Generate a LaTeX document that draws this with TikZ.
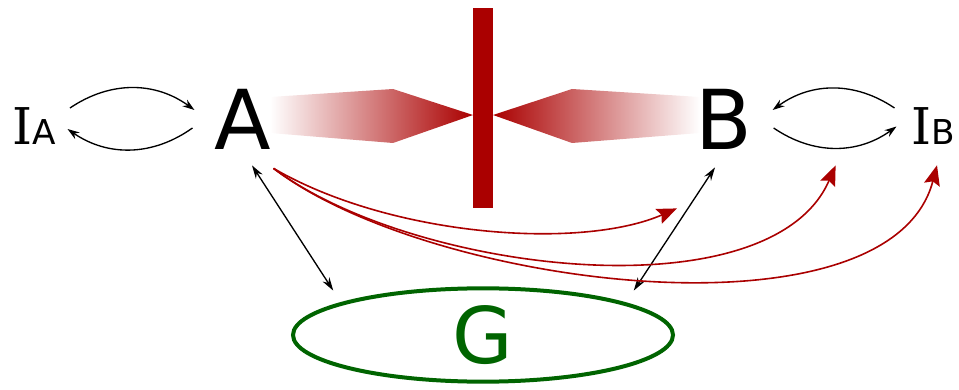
\documentclass[tikz,border=0pt]{standalone}
\usepackage{fontspec}
\usepackage{tikz}
\usepackage{xcolor}
\usetikzlibrary{arrows.meta,shapes.geometric}
\setmainfont{DejaVu Sans}
\newfontfamily\serifI{DejaVu Serif}
\definecolor{barred}{RGB}{170,0,0}
\definecolor{ggreen}{RGB}{0,100,0}

\begin{document}
\begin{tikzpicture}[x=0.75pt,y=0.75pt,
  letter/.style={inner sep=0pt,font=\fontsize{62}{62}\selectfont},
  lab/.style={inner sep=0pt},
  link/.style={line width=1pt,{Stealth[length=10pt,width=6pt]}-{Stealth[length=10pt,width=6pt]}},
  cyc/.style={line width=1pt,-{Stealth[length=9pt,width=6pt]}},
  sig/.style={barred,line width=1.2pt,-{Stealth[length=15pt,width=12pt,inset=2.5pt]}}]
\useasboundingbox (0,0) rectangle (959,389);
% beams and the wall
\shade[left color=white,right color=barred] (270,292) -- (393,300) -- (473,274) -- (393,246) -- (270,256) -- cycle;
\shade[left color=barred,right color=white] (493,274) -- (572,300) -- (700,292) -- (700,256) -- (572,246) -- cycle;
\fill[barred] (473,181) rectangle (493,381);
% parties
\node[letter] (A) at (243,270) {A};
\node[letter] (B) at (724,270) {B};
\node[lab] (IA) at (34,262.5) {{\fontsize{38}{38}\serifI I}{\fontsize{25.7}{26}\selectfont A}};
\node[lab] (IB) at (933.5,262.5) {{\fontsize{38}{38}\serifI I}{\fontsize{25.7}{26}\selectfont B}};
\node[ellipse,draw=ggreen,line width=3pt,inner sep=0pt,minimum width=285pt,minimum height=70pt,
  text=ggreen,font=\fontsize{58.6}{59}\selectfont] (G) at (483,54) {G};
% local loops
\draw[cyc] ([shift={(14,18.5)}]IA.east) to[bend left=35] ([shift={(-20,9)}]A.west);
\draw[cyc] ([shift={(-22,-9)}]A.west) to[bend left=35] ([shift={(11.5,-2.5)}]IA.east);
\draw[cyc] ([shift={(-17,18.5)}]IB.west) to[bend right=35] ([shift={(20,9)}]B.east);
\draw[cyc] ([shift={(21,-9)}]B.east) to[bend right=35] ([shift={(-15,0)}]IB.west);
% links to G
\draw[link] ([shift={(9,-16)}]A.south) -- ([shift={(-14,10)}]G.north west);
\draw[link] ([shift={(-9,-18)}]B.south) -- ([shift={(15,10)}]G.north east);
% signals from A
\draw[sig] ([shift={(2,-19)}]A.south east) .. controls +(117,-68) and +(-97,-42) .. ([shift={(-47,-59)}]B.south);
\draw[sig] ([shift={(2,-19)}]A.south east) .. controls +(140,-105) and +(-65,-150) .. ([shift={(83,-16)}]B.south east);
\draw[sig] ([shift={(2,-19)}]A.south east) .. controls +(157,-120) and +(-47,-180) .. ([shift={(3.5,-20)}]IB.south);
\end{tikzpicture}
\end{document}
